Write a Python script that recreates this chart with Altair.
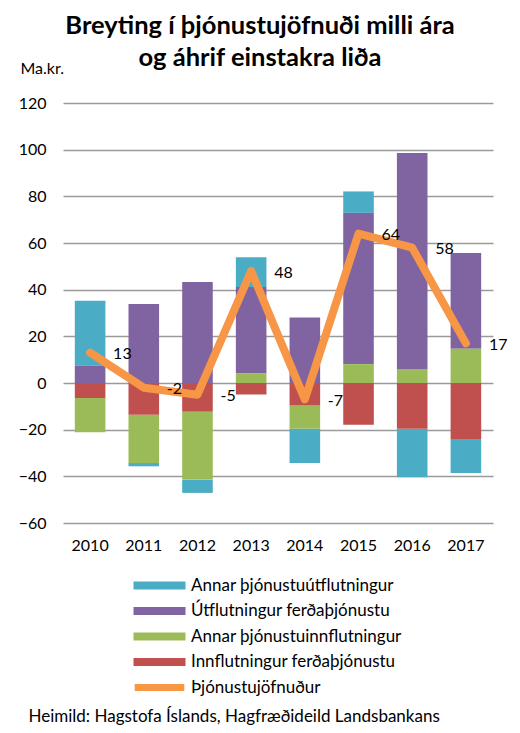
import altair as alt
import pandas as pd

years = ["2010", "2011", "2012", "2013", "2014", "2015", "2016", "2017"]
series_names = [
    "Annar þjónustuútflutningur",
    "Útflutningur ferðaþjónustu",
    "Annar þjónustuinnflutningur",
    "Innflutningur ferðaþjónustu",
]
series_colors = ["#4BACC6", "#8064A2", "#9BBB59", "#C0504D"]
# stacking order (red nearest zero, then green, purple, teal)
stack_order = [4, 3, 2, 1]

annar_utfl = [27.8, -1.4, -5.7, 12.8, -14.7, 9.2, -20.8, -14.6]
utfl_ferd = [7.5, 33.9, 43.3, 37.0, 28.1, 64.8, 92.6, 41.0]
annar_innfl = [-14.7, -20.7, -29.1, 4.1, -10.0, 8.1, 6.0, 14.7]
innfl_ferd = [-6.4, -13.6, -12.3, -4.9, -9.6, -17.9, -19.6, -24.0]

line_name = "Þjónustujöfnuður"
line_color = "#F79646"
jofnudur = [13, -2, -5, 48, -7, 64, 58, 17]

y_ticks = [-60, -40, -20, 0, 20, 40, 60, 80, 100, 120]

FONT = "Lato"

rows = []
for name, vals, o in zip(series_names, [annar_utfl, utfl_ferd, annar_innfl, innfl_ferd], stack_order):
    for yr, v in zip(years, vals):
        rows.append({"year": yr, "series": name, "value": v, "ord": o})
df = pd.DataFrame(rows)
df_line = pd.DataFrame({
    "year": years,
    "value": jofnudur,
    "label": [str(v) for v in jofnudur],
    "name": line_name,
})

x_enc = alt.X(
    "year:N",
    sort=years,
    scale=alt.Scale(paddingInner=0.43, paddingOuter=0.22),
    axis=alt.Axis(
        title="Heimild: Hagstofa Íslands, Hagfræðideild Landsbankans",
        titleFont=FONT, titleFontSize=17, titleFontWeight="normal", titleColor="#000",
        titleAnchor="start", titleAlign="left", titleBaseline="middle",
        titleX=-35, titleY=193, titleLimit=500,
        labelAngle=0, labelFont=FONT, labelFontSize=16, labelColor="#000",
        labelPadding=14, domain=False, ticks=False, grid=False,
    ),
)
y_scale = alt.Scale(domain=[-60, 120], nice=False, zero=False)
y_axis = alt.Axis(
    title="Ma.kr.", titleAngle=0, titleAlign="left", titleBaseline="middle",
    titleX=-43, titleY=-35, titleFont=FONT, titleFontSize=16, titleFontWeight="normal",
    titleColor="#000",
    values=y_ticks, labelFont=FONT, labelFontSize=16, labelColor="#000", labelPadding=17,
    domain=False, ticks=False, grid=True, gridColor="#9a9a9a", gridWidth=1.3,
)

# symbol drawn at 4 px per path unit (symbolSize 64 -> sqrt 8 / 2)
bar_path = "M-6.5,-1L6.5,-1L6.5,1L-6.5,1Z"
line_path = "M-6.2,0L6.2,0"

bars = alt.Chart(df).mark_bar().encode(
    x=x_enc,
    y=alt.Y("value:Q", stack="zero", scale=y_scale, axis=y_axis),
    color=alt.Color(
        "series:N",
        scale=alt.Scale(domain=series_names, range=series_colors),
        legend=alt.Legend(
            title=None, orient="none", legendX=88, legendY=474, padding=0,
            symbolType=bar_path, symbolSize=64, symbolStrokeWidth=0,
            labelFont=FONT, labelFontSize=17, labelColor="#000", labelOffset=23,
            labelLimit=400, rowPadding=7.5, direction="vertical",
        ),
    ),
    order=alt.Order("ord:Q"),
)

line = alt.Chart(df_line).mark_line(
    strokeWidth=8, strokeCap="round", strokeJoin="round"
).encode(
    x=alt.X("year:N", sort=years),
    y=alt.Y("value:Q", scale=y_scale),
    stroke=alt.Stroke(
        "name:N",
        scale=alt.Scale(domain=[line_name], range=[line_color]),
        legend=alt.Legend(
            title=None, orient="none", legendX=88, legendY=576, padding=0,
            symbolType=line_path, symbolSize=64, symbolStrokeWidth=7,
            labelFont=FONT, labelFontSize=17, labelColor="#000", labelOffset=23,
            labelLimit=400,
        ),
    ),
)

labels = alt.Chart(df_line).mark_text(
    align="left", baseline="middle", dx=23, dy=1.5, font=FONT, fontSize=16, color="#000"
).encode(
    x=alt.X("year:N", sort=years),
    y=alt.Y("value:Q", scale=y_scale),
    text=alt.Text("label:N"),
)

chart = alt.layer(bars, line, labels).properties(
    width=430,
    height=420,
    autosize=alt.AutoSizeParams(type="none"),
    padding={"left": 55, "top": 95, "right": 19, "bottom": 202},
    title=alt.TitleParams(
        text=["Breyting í þjónustujöfnuði milli ára", "og áhrif einstakra liða"],
        font=FONT, fontSize=25.5, fontWeight="bold", color="#000",
        anchor="middle", dx=-18, offset=-11, lineHeight=32,
    ),
).configure_view(stroke=None)

chart.save("out.html", embed_options={"renderer": "svg", "actions": False})
